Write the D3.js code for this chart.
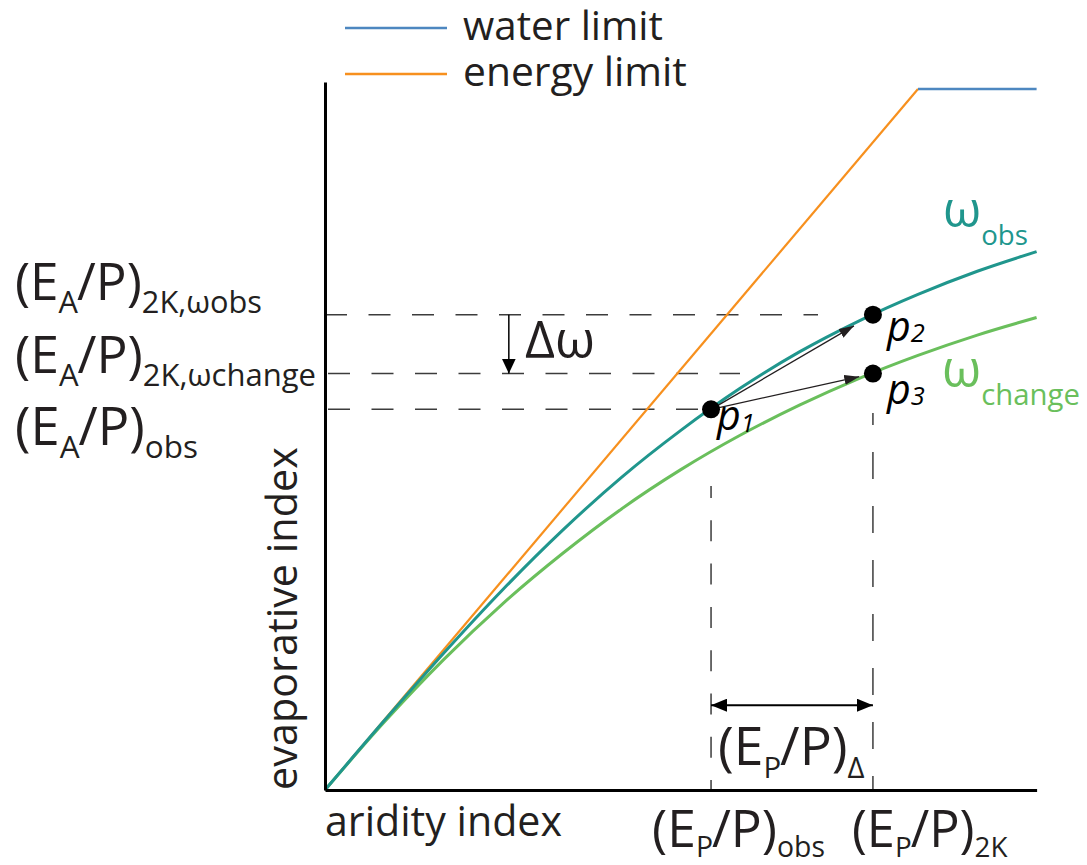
<!DOCTYPE html>
<html><head><meta charset="utf-8">
<script src="https://cdn.jsdelivr.net/npm/d3@7"></script>
<style>
body{margin:0;background:#fff}
svg{display:block}
text{font-family:"Open Sans","Noto Sans",sans-serif}
</style>
</head><body>
<svg id="c" width="1087" height="865"></svg>
<script>
// ---- data ----
const aridity    = [0, 0.1, 0.2, 0.3, 0.4, 0.5, 0.6, 0.7, 0.8, 0.9, 1.0, 1.1, 1.2];
const evapObs    = [0, 0.099, 0.195, 0.286, 0.370, 0.446, 0.513, 0.573, 0.625, 0.669, 0.707, 0.740, 0.768];
const evapChange = [0, 0.097, 0.186, 0.266, 0.337, 0.401, 0.457, 0.506, 0.549, 0.587, 0.620, 0.649, 0.674];
const energyLimitX = [0, 1.0];
const energyLimitY = [0, 1.0];
const waterLimitX  = [1.0, 1.2];
const waterLimitY  = [1.0, 1.0];
const pointNames = ["p", "p", "p"];
const pointDigits = ["1", "2", "3"];
const pointX = [0.651, 0.924, 0.924];
const pointY = [0.543, 0.678, 0.594];
const legendLabels = ["water limit", "energy limit"];
const xAxisTitle = "aridity index";
const yAxisTitle = "evaporative index";

const C = {teal:"#20968d", green:"#6abf5c", blue:"#4d87c0", orange:"#f7901e", ink:"#231f20", dash:"#3c3c3c"};

const svg = d3.select("#c");
const x = d3.scaleLinear().domain([0, 1.2]).range([325, 1036.6]);
const y = d3.scaleLinear().domain([0, 1.01]).range([790, 82]);

// markers
const defs = svg.append("defs");
function marker(id, len, wid, color){
  defs.append("marker").attr("id", id).attr("markerUnits","userSpaceOnUse")
    .attr("viewBox", `0 ${-wid/2} ${len} ${wid}`).attr("refX", len).attr("refY", 0)
    .attr("markerWidth", len).attr("markerHeight", wid).attr("orient","auto-start-reverse")
    .append("path").attr("d", `M0,${-wid/2}L${len},0L0,${wid/2}Z`).attr("fill", color);
}
marker("arrSmall", 15, 10, C.ink);
marker("arrBig", 15, 14, "#000");
marker("arrDbl", 16, 13, "#000");

// rich text helper (subscripts)
function rich(parts, o){
  const t = svg.append("text").attr("x", o.x).attr("y", o.y)
    .attr("fill", o.fill || C.ink).attr("text-anchor", o.anchor || "start");
  if (o.rotate != null) t.attr("transform", `rotate(${o.rotate},${o.x},${o.y})`);
  const subRatio = o.subRatio || 0.58, subDy = o.subDy == null ? 0.26 : o.subDy;
  function build(s){
    t.selectAll("tspan").remove();
    t.attr("font-size", s);
    let shift = 0;
    parts.forEach(p => {
      const ts = t.append("tspan").text(p.t);
      const want = p.sub ? subDy * s : 0;
      ts.attr("dy", want - shift); shift = want;
      ts.attr("font-size", p.sub ? s * subRatio : s);
      if (p.dx) ts.attr("dx", p.dx * s);
      if (p.it || o.italic) ts.attr("font-style", "italic");
    });
  }
  build(o.size);
  if (o.target){
    const w = t.node().getBBox().width;
    build(o.size * o.target / w);
  }
  return t;
}

// dashed guides
function dashed(x1, y1, x2, y2, arr, off){
  svg.append("line").attr("x1", x1).attr("y1", y1).attr("x2", x2).attr("y2", y2)
    .attr("stroke", C.dash).attr("stroke-width", 1.5)
    .attr("stroke-dasharray", arr).attr("stroke-dashoffset", off || 0);
}
dashed(x(0), y(pointY[1]), 818, y(pointY[1]), "22,21.5");
dashed(x(0), y(pointY[2]), 740, y(pointY[2]), "22,21.5", -3);
dashed(x(0), y(pointY[0]), 700, y(pointY[0]), "22,21.5", -3);
dashed(x(pointX[0]), 486, x(pointX[0]), y(0), "21,22.3", 9);
dashed(x(pointX[1]), 413, x(pointX[1]), y(0), "27,27", 15);

// lines
const line = d3.line().x(d => x(d[0])).y(d => y(d[1]));
const curve = d3.line().x(d => x(d[0])).y(d => y(d[1])).curve(d3.curveMonotoneX);
svg.append("path").attr("d", line(d3.zip(energyLimitX, energyLimitY)))
  .attr("fill","none").attr("stroke", C.orange).attr("stroke-width", 2.2);
svg.append("path").attr("d", line(d3.zip(waterLimitX, waterLimitY)))
  .attr("fill","none").attr("stroke", C.blue).attr("stroke-width", 2.6);
svg.append("path").attr("d", curve(d3.zip(aridity, evapChange)))
  .attr("fill","none").attr("stroke", C.green).attr("stroke-width", 3);
svg.append("path").attr("d", curve(d3.zip(aridity, evapObs)))
  .attr("fill","none").attr("stroke", C.teal).attr("stroke-width", 3);

// axes
svg.append("g").attr("transform", `translate(0,${y(0)})`)
  .call(d3.axisBottom(x).tickValues([]).tickSizeOuter(0))
  .call(g => g.select(".domain").attr("stroke", "#000").attr("stroke-width", 3));
svg.append("g").attr("transform", `translate(${x(0)},0)`)
  .call(d3.axisLeft(y).tickValues([]).tickSizeOuter(0))
  .call(g => g.select(".domain").attr("stroke", "#000").attr("stroke-width", 3));

// arrows p1 -> p2, p1 -> p3
function shortened(i, j, s0, s1){
  const ax = x(pointX[i]), ay = y(pointY[i]), bx = x(pointX[j]), by = y(pointY[j]);
  const L = Math.hypot(bx-ax, by-ay), ux = (bx-ax)/L, uy = (by-ay)/L;
  return [ax + ux*s0, ay + uy*s0, bx - ux*s1, by - uy*s1];
}
[[1, 22], [2, 14]].forEach(([j, s]) => {
  const [x1, y1, x2, y2] = shortened(0, j, 6, s);
  svg.append("line").attr("x1", x1).attr("y1", y1).attr("x2", x2).attr("y2", y2)
    .attr("stroke", C.ink).attr("stroke-width", 1.3).attr("marker-end", "url(#arrSmall)");
});

// delta-omega arrow
svg.append("line").attr("x1", x(0.310)).attr("x2", x(0.310))
  .attr("y1", y(pointY[1])).attr("y2", y(pointY[2]))
  .attr("stroke", "#000").attr("stroke-width", 1.5).attr("marker-end", "url(#arrBig)");

// double arrow
svg.append("line").attr("x1", x(pointX[0])).attr("x2", x(pointX[1]))
  .attr("y1", y(0.121)).attr("y2", y(0.121))
  .attr("stroke", "#000").attr("stroke-width", 2)
  .attr("marker-start", "url(#arrDbl)").attr("marker-end", "url(#arrDbl)");

// points
svg.selectAll("circle.pt").data(pointX).join("circle").attr("class","pt")
  .attr("cx", d => x(d)).attr("cy", (d, i) => y(pointY[i])).attr("r", 9).attr("fill", "#000");

// point labels
const pLabelPos = [[6, 21], [14, 26], [14, 30]];
pointX.forEach((px, i) => {
  rich([{t: pointNames[i]}, {t: pointDigits[i], sub: true}],
    {x: x(px) + pLabelPos[i][0], y: y(pointY[i]) + pLabelPos[i][1], size: 36, italic: true,
     subRatio: 0.62, subDy: 0.04, target: 39, fill: "#000"});
});

// legend
const legColors = [C.blue, C.orange];
legendLabels.forEach((lab, i) => {
  const ly = [28, 74][i];
  svg.append("line").attr("x1", 345).attr("x2", 447).attr("y1", ly).attr("y2", ly)
    .attr("stroke", legColors[i]).attr("stroke-width", 2.6);
  rich([{t: lab}], {x: 463, y: ly + 12, size: 44, target: [200, 224][i]});
});

// axis titles
rich([{t: xAxisTitle}], {x: 325, y: 836, size: 44, target: 237});
rich([{t: yAxisTitle}], {x: 297, y: 790, size: 44, target: 343, rotate: -90});

// left labels
rich([{t:"(E"},{t:"A",sub:true},{t:"/P)",dx:-0.02},{t:"2K,ωobs",sub:true}],
  {x: 15, y: 300, size: 52, target: 247, subRatio: 0.6, subDy: 0.25});
rich([{t:"(E"},{t:"A",sub:true},{t:"/P)",dx:-0.02},{t:"2K,ωchange",sub:true}],
  {x: 15, y: 373, size: 52, target: 301, subRatio: 0.6, subDy: 0.25});
rich([{t:"(E"},{t:"A",sub:true},{t:"/P)",dx:-0.02},{t:"obs",sub:true}],
  {x: 15, y: 445, size: 52, target: 183, subRatio: 0.6, subDy: 0.25});

// x tick labels
rich([{t:"(E"},{t:"P",sub:true},{t:"/P)",dx:-0.02},{t:"obs",sub:true}],
  {x: x(pointX[0]) - 59, y: 847, size: 52, target: 173, subRatio: 0.55, subDy: 0.2});
rich([{t:"(E"},{t:"P",sub:true},{t:"/P)",dx:-0.02},{t:"2K",sub:true}],
  {x: x(pointX[1]) - 21, y: 847, size: 52, target: 156, subRatio: 0.55, subDy: 0.2});
rich([{t:"(E"},{t:"P",sub:true},{t:"/P)",dx:-0.02},{t:"Δ",sub:true}],
  {x: x(pointX[0]) + 7, y: 765, size: 52, target: 147, subRatio: 0.55, subDy: 0.25});

// delta omega text
rich([{t:"Δω"}], {x: 525, y: 358, size: 52, target: 70});

// curve labels
rich([{t:"ω"},{t:"obs",sub:true}], {x: 943, y: 227, size: 50, target: 85, subRatio: 0.56, subDy: 0.36, fill: C.teal});
rich([{t:"ω"},{t:"change",sub:true}], {x: 942, y: 387, size: 50, target: 138, subRatio: 0.58, subDy: 0.36, fill: C.green});
</script>
</body></html>
